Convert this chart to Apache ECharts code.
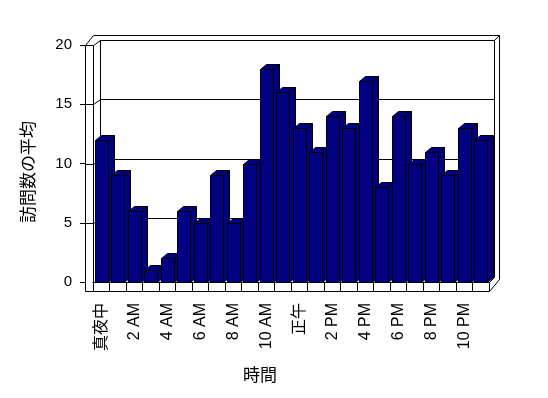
<!DOCTYPE html>
<html>
<head>
<meta charset="utf-8">
<script src="https://cdn.jsdelivr.net/npm/echarts@6/dist/echarts.min.js"></script>
<style>html,body{margin:0;padding:0;background:#fff}#c{width:548px;height:398px}</style>
</head>
<body>
<div id="c"></div>
<script>
const categories = ['真夜中','1 AM','2 AM','3 AM','4 AM','5 AM','6 AM','7 AM','8 AM','9 AM','10 AM','11 AM',
  '正午','1 PM','2 PM','3 PM','4 PM','5 PM','6 PM','7 PM','8 PM','9 PM','10 PM','11 PM'];
const values = [12,9,6,1,2,6,5,9,5,10,18,16,13,11,14,13,17,8,14,10,11,9,13,12];
const yTicks = [0,5,10,15,20];
const yName = '訪問数の平均';
const xName = '時間';

const FONT = "'Liberation Sans','Noto Sans CJK JP',sans-serif";
const NAVY = '#000080';
const DX = 6, DY = -5;

const chart = echarts.init(document.getElementById('c'), null, {renderer:'canvas'});

const option = {
  backgroundColor: '#fff',
  animation: false,
  grid: {left: 93, right: 59, top: 45, bottom: 116},
  xAxis: {
    type: 'category',
    data: categories,
    boundaryGap: true,
    axisLine: {show: true, lineStyle: {color: '#000', width: 1}},
    axisTick: {show: true, length: 9, interval: 0, lineStyle: {color: '#000'}},
    axisLabel: {interval: 1, rotate: 90, margin: 21, color: '#000', fontSize: 16, fontFamily: FONT}
  },
  yAxis: {
    type: 'value',
    min: yTicks[0], max: yTicks[yTicks.length-1], interval: 5,
    offset: 8,
    axisLine: {show: false},
    axisTick: {show: true, length: 5, lineStyle: {color: '#000'}},
    splitLine: {show: false},
    axisLabel: {margin: 13, color: '#000', fontSize: 15, fontFamily: FONT}
  },
  series: [{
    type: 'custom',
    z: 5,
    data: values.map((v, i) => [i, v]),
    renderItem: function (params, api) {
      const i = api.value(0), v = api.value(1);
      const top = api.coord([i, v]);
      const bot = api.coord([i, 0]);
      const w = api.size([1, 0])[0] * 0.79;
      const x0 = Math.round(top[0] - w / 2) + 0.5, x1 = Math.round(top[0] + w / 2) + 0.5;
      const yT = Math.round(top[1]) + 0.5, yB = Math.round(bot[1]) + 0.5;
      const st = {fill: NAVY, stroke: '#000', lineWidth: 1};
      return {type: 'group', children: [
        {type: 'polygon', shape: {points: [[x1, yT], [x1 + DX, yT + DY], [x1 + DX, yB + DY], [x1, yB]]}, style: st},
        {type: 'polygon', shape: {points: [[x0, yT], [x0 + DX, yT + DY], [x1 + DX, yT + DY], [x1, yT]]}, style: st},
        {type: 'rect', shape: {x: x0, y: yT, width: x1 - x0, height: yB - yT}, style: st}
      ]};
    }
  }]
};
chart.setOption(option);

// frame decoration derived from the axes
const c0 = chart.convertToPixel({xAxisIndex: 0}, 0);
const cN = chart.convertToPixel({xAxisIndex: 0}, categories.length - 1);
const hw = (cN - c0) / (categories.length - 1) / 2;
const L = Math.round(c0 - hw) + 0.5, R = Math.round(cN + hw) + 0.5;
const T = Math.round(chart.convertToPixel({yAxisIndex: 0}, yTicks[yTicks.length-1])) + 0.5;
const B = Math.round(chart.convertToPixel({yAxisIndex: 0}, yTicks[0])) + 0.5;
const W = 8; // left wall thickness
const line = (pts, closed) => ({type: closed ? 'polygon' : 'polyline', z: 0, silent: true,
  shape: {points: pts}, style: {fill: closed ? '#fff' : null, stroke: '#000', lineWidth: 1}});
const gfx = [];
// outer frame
gfx.push(line([[L - W, B + 9], [L - W, T], [L, T - 10], [R + 10, T - 10], [R + 10, B - 3], [R, B + 9]], true));
// back wall
gfx.push(line([[L + 7, B - 5], [L + 7, T - 5], [R + 5, T - 5], [R + 5, B - 5], [R, B]], false));
gfx.push(line([[R + 5, T - 5], [R + 10, T - 10]], false));
// left wall inner edge
gfx.push(line([[L, T], [L, B]], false));
// right floor edge
gfx.push(line([[R, B], [R, B + 9]], false));
// gridlines
yTicks.slice(1).forEach(v => {
  const y = Math.round(chart.convertToPixel({yAxisIndex: 0}, v)) + 0.5;
  gfx.push(line([[L - W, y], [L, y], [L + 7, y - 5], [R + 5, y - 5]], false));
});
// axis names
gfx.push({type: 'text', z: 10, x: 29, y: 172, rotation: Math.PI / 2,
  style: {text: yName, fontSize: 17, fontFamily: FONT, fill: '#000', align: 'center', verticalAlign: 'middle'}});
gfx.push({type: 'text', z: 10, x: 260, y: 376,
  style: {text: xName, fontSize: 17, fontFamily: FONT, fill: '#000', align: 'center', verticalAlign: 'middle'}});
chart.setOption({graphic: {elements: gfx}});
</script>
</body>
</html>
